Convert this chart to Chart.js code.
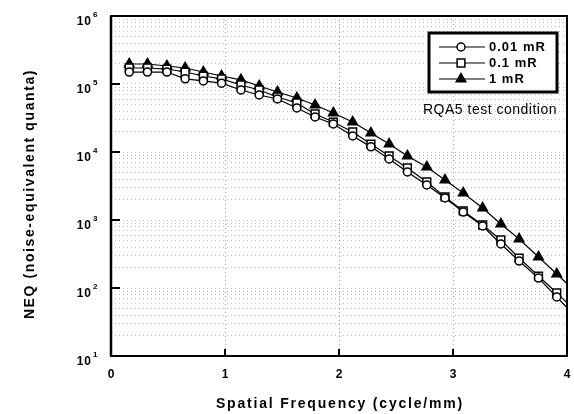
<!DOCTYPE html>
<html>
<head>
<meta charset="utf-8">
<script src="https://cdn.jsdelivr.net/npm/chart.js@4/dist/chart.umd.min.js"></script>
<style>
  html, body { margin: 0; padding: 0; background: #fff; }
</style>
</head>
<body>
<canvas id="neq" width="574" height="414"></canvas>
<script>
"use strict";

// spatial frequency (cycle/mm); last point sits just past the axis so the lines run to the edge
const freq = [0.16, 0.32, 0.49, 0.65, 0.81, 0.97, 1.14, 1.30, 1.46, 1.63, 1.79, 1.95,
              2.12, 2.28, 2.44, 2.60, 2.77, 2.93, 3.09, 3.26, 3.42, 3.58, 3.75, 3.91, 4.07];

// NEQ (noise-equivalent quanta) per exposure
const neq001 = [150000, 150000, 150000, 119000, 111000, 103000, 81600, 68900, 60200, 44400, 32700, 25800,
                17200, 11900, 7890, 5080, 3270, 2110, 1310, 816, 444, 249, 140, 73.8, 38.7];
const neq01 = [172000, 172000, 166000, 150000, 131000, 119000, 96700, 81600, 64400, 52600, 36200, 27600,
               19700, 13100, 8740, 5820, 3620, 2180, 1360, 844, 508, 276, 150, 84.4, 47];
const neq1 = [197000, 197000, 184000, 172000, 150000, 131000, 115000, 93500, 76300, 62300, 49100, 37500,
              27600, 19000, 13100, 8740, 6020, 3870, 2490, 1500, 874, 526, 286, 161, 90];

const seriesLabels = ['0.01 mR', '0.1 mR', '1 mR'];
const xTicks = [0, 1, 2, 3, 4];
const yDecades = [10, 100, 1000, 10000, 100000, 1000000];
const note = 'RQA5 test condition';
const xTitle = 'Spatial Frequency (cycle/mm)';
const yTitle = 'NEQ (noise-equivalent quanta)';

const FONT = "'Liberation Sans', Arial, sans-serif";

// minor log grid: 1..9 x each decade
let yGrid = [];
yDecades.slice(0, -1).forEach(d => {
  for (let m = 1; m < 10; m++) yGrid.push(m * d);
});
yGrid.push(yDecades[yDecades.length - 1]);

function toPoints(ys) {
  return ys.map((y, i) => ({ x: freq[i], y: y }));
}

let styles = [
  { pointStyle: 'circle', radius: 4, fill: '#fff' },
  { pointStyle: 'rect', radius: 5.5, fill: '#fff' },
  { pointStyle: 'triangle', radius: 5.5, fill: '#000' }
];

let datasets = [neq001, neq01, neq1].map((ys, i) => ({
  label: seriesLabels[i],
  data: toPoints(ys),
  borderColor: '#000',
  borderWidth: 1.2,
  pointStyle: styles[i].pointStyle,
  pointRadius: styles[i].radius,
  pointBackgroundColor: styles[i].fill,
  pointBorderColor: '#000',
  pointBorderWidth: 1.5,
  tension: 0
}));

// frame, inward ticks, tick labels, legend box and titles
const decorations = {
  id: 'decorations',
  afterDraw(chart) {
    const ctx = chart.ctx;
    const area = chart.chartArea;
    const xs = chart.scales.x;
    const ys = chart.scales.y;
    ctx.save();

    // inward major ticks
    ctx.strokeStyle = '#000';
    ctx.lineWidth = 2;
    yDecades.forEach(v => {
      let py = Math.round(ys.getPixelForValue(v));
      ctx.beginPath();
      ctx.moveTo(area.left, py);
      ctx.lineTo(area.left + 9, py);
      ctx.stroke();
    });
    xTicks.forEach(v => {
      let px = Math.round(xs.getPixelForValue(v));
      ctx.beginPath();
      ctx.moveTo(px, area.bottom);
      ctx.lineTo(px, area.bottom - 7);
      ctx.stroke();
    });

    // plot frame
    ctx.lineWidth = 2;
    ctx.strokeRect(area.left, area.top, area.right - area.left, area.bottom - area.top);
    ctx.lineWidth = 2.5;
    ctx.beginPath();
    ctx.moveTo(area.left, area.top);
    ctx.lineTo(area.left, area.bottom);
    ctx.stroke();

    // x labels
    ctx.fillStyle = '#000';
    ctx.font = 'bold 12px ' + FONT;
    ctx.textAlign = 'center';
    ctx.textBaseline = 'middle';
    xTicks.forEach(v => {
      ctx.fillText(String(v), xs.getPixelForValue(v), area.bottom + 19);
    });

    // y labels: 10 with superscript exponent
    yDecades.forEach(v => {
      let py = ys.getPixelForValue(v);
      let exp = Math.round(Math.log10(v));
      ctx.font = 'bold 12px ' + FONT;
      ctx.letterSpacing = '1px';
      ctx.textAlign = 'right';
      ctx.textBaseline = 'alphabetic';
      ctx.fillText('10', 92, py + 8.5);
      ctx.font = 'bold 8px ' + FONT;
      ctx.letterSpacing = '0px';
      ctx.textAlign = 'left';
      ctx.fillText(String(exp), 93, py + 1);
    });

    // axis titles
    ctx.textAlign = 'center';
    ctx.textBaseline = 'middle';
    ctx.font = 'bold 14px ' + FONT;
    ctx.letterSpacing = '1.8px';
    ctx.fillText(xTitle, 340, 404);
    ctx.save();
    ctx.translate(30, 194);
    ctx.rotate(-Math.PI / 2);
    ctx.letterSpacing = '1.6px';
    ctx.fillText(yTitle, 0, 0);
    ctx.restore();

    // legend box
    const box = { left: 429, top: 33, width: 128, height: 59 };
    ctx.fillStyle = '#fff';
    ctx.fillRect(box.left, box.top, box.width, box.height);
    ctx.strokeStyle = '#000';
    ctx.lineWidth = 3;
    ctx.strokeRect(box.left, box.top, box.width, box.height);

    chart.data.datasets.forEach((ds, i) => {
      let ly = 47 + i * 16;
      ctx.lineWidth = 1.2;
      ctx.beginPath();
      ctx.moveTo(439, ly);
      ctx.lineTo(485, ly);
      ctx.stroke();
      ctx.fillStyle = ds.pointBackgroundColor;
      ctx.lineWidth = 1.5;
      Chart.helpers.drawPoint(ctx, {
        pointStyle: ds.pointStyle,
        radius: ds.pointRadius,
        borderWidth: 1.5,
        rotation: 0
      }, 461, ly);
      ctx.fillStyle = '#000';
      ctx.font = 'bold 13px ' + FONT;
      ctx.letterSpacing = '1px';
      ctx.textAlign = 'left';
      ctx.textBaseline = 'middle';
      ctx.fillText(ds.label, 489, ly + 0.5);
    });

    // condition note
    ctx.font = '14px ' + FONT;
    ctx.letterSpacing = '0.5px';
    ctx.textAlign = 'left';
    ctx.textBaseline = 'middle';
    ctx.fillText(note, 423, 110);

    ctx.restore();
  }
};

let chart = new Chart(document.getElementById('neq').getContext('2d'), {
  type: 'line',
  data: { datasets: datasets },
  plugins: [decorations],
  options: {
    responsive: false,
    animation: false,
    devicePixelRatio: 1,
    layout: { padding: { top: 16, right: 2, left: 0, bottom: 0 } },
    plugins: {
      legend: { display: false },
      tooltip: { enabled: false }
    },
    scales: {
      x: {
        type: 'linear',
        min: 0,
        max: 4,
        afterBuildTicks: s => { s.ticks = xTicks.map(v => ({ value: v })); },
        afterFit: s => { s.height = 58; },
        border: { display: false, dash: [1, 3] },
        grid: {
          drawTicks: false,
          lineWidth: 1,
          color: c => (c.tick && c.tick.value > 0 && c.tick.value < 4) ? 'rgba(0,0,0,0.35)' : 'rgba(0,0,0,0)'
        },
        ticks: { display: false }
      },
      y: {
        type: 'logarithmic',
        min: 10,
        max: 1000000,
        afterBuildTicks: s => { s.ticks = yGrid.map(v => ({ value: v })); },
        afterFit: s => { s.width = 111; },
        border: { display: false, dash: [1, 3] },
        grid: {
          drawTicks: false,
          lineWidth: 1,
          color: 'rgba(0,0,0,0.25)'
        },
        ticks: { display: false }
      }
    }
  }
});
</script>
</body>
</html>
